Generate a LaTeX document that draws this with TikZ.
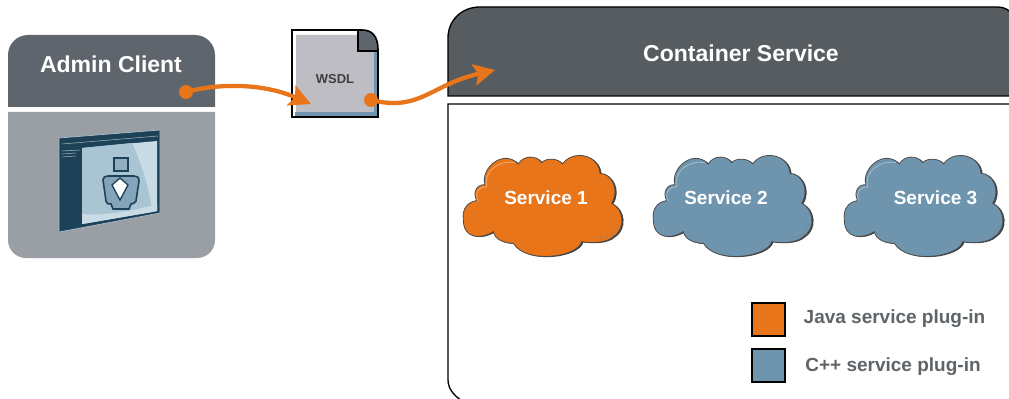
\documentclass[tikz,border=0pt]{standalone}
\usepackage{fontspec}
\setmainfont{Liberation Sans}
\usetikzlibrary{arrows.meta}
\definecolor{hdr}{HTML}{5E656C}
\definecolor{hdrb}{HTML}{575C60}
\definecolor{adm}{HTML}{9A9EA5}
\definecolor{org}{HTML}{E8751A}
\definecolor{blu}{HTML}{6E94AE}
\definecolor{doc}{HTML}{BFBDC4}
\definecolor{txt}{HTML}{5F6468}
\definecolor{navy}{HTML}{1D4258}
\definecolor{scr}{HTML}{A9C4D2}
\definecolor{scrl}{HTML}{C9DBE4}
\tikzset{
  ttl/.style={font=\bfseries\fontsize{17.25}{20}\selectfont,text=white,inner sep=0pt,anchor=base},
  cloudtxt/.style={font=\bfseries\fontsize{14.25}{17}\selectfont,text=white,inner sep=0pt,anchor=base},
  legtxt/.style={font=\bfseries\fontsize{14.25}{17}\selectfont,text=txt,inner sep=0pt,anchor=base},
  legbox/.style={draw=black,line width=1.6pt,minimum size=24.5pt,inner sep=0pt},
  dot/.style={circle,fill=org,inner sep=0pt,minimum size=10.5pt},
  flow/.style={draw=org,line width=3.2pt,-{Stealth[length=16pt,width=16pt,inset=3pt]}},
}
\newcommand{\cloudshape}{
  (40,240) .. controls (35,205) and (55,185) .. (80,182)
  .. controls (65,155) and (85,130) .. (105,135)
  .. controls (90,85) and (160,25) .. (205,72)
  .. controls (220,45) and (260,45) .. (275,68)
  .. controls (290,52) and (325,55) .. (338,72)
  .. controls (365,30) and (445,40) .. (450,100)
  .. controls (485,100) and (510,150) .. (485,190)
  .. controls (520,205) and (530,265) .. (490,290)
  .. controls (470,310) and (420,310) .. (395,305)
  .. controls (385,350) and (230,375) .. (190,310)
  .. controls (165,310) and (135,300) .. (130,275)
  .. controls (90,300) and (40,295) .. (40,240) -- cycle}
\newcommand{\svccloud}[5]{% name, dx, fill, label, label-x
  \begin{scope}[shift={(450+#2,140)},scale=0.3333]
    \fill[black!75,shift={(5,2)}] \cloudshape;
    \fill[#3,draw=black!70,line width=.6pt] \cloudshape;
    \draw[white,opacity=.35,line width=.7pt] (84,184) .. controls (72,158) and (90,138) .. (110,140) .. controls (98,95) and (150,58) .. (195,68);
    \draw[black!50,opacity=.6,line width=.4pt] (505,255) .. controls (500,285) and (470,295) .. (440,292);
  \end{scope}
  \node[cloudtxt] (#1) at (#5,204) {#4};
}
\begin{document}
\begin{tikzpicture}[x=.75pt,y=-.75pt]
\useasboundingbox (0,0) rectangle (1009,399);
\fill[white] (0,0) rectangle (1009,399);
% admin client
\fill[hdr] (8,107) -- (8,55) .. controls (8,44) and (17,35) .. (28,35) -- (195,35) .. controls (206,35) and (215,44) .. (215,55) -- (215,107) -- cycle;
\fill[adm] (8,112) -- (215,112) -- (215,240) .. controls (215,250) and (207,258) .. (197,258) -- (26,258) .. controls (16,258) and (8,250) .. (8,240) -- cycle;
\node[ttl] (admin) at (111,73) {Admin Client};
% monitor icon
\fill[navy] (59,138) -- (160,130) -- (160,213) -- (59,232) -- cycle;
\draw[blu!60,line width=.5pt] (59,138) -- (160,130) -- (160,213) -- (59,232) -- cycle;
\fill[scrl] (82,148) -- (157,141) -- (157,211) -- (82,224) -- cycle;
\fill[scr] (82,148) -- (132,143) .. controls (140,160) and (150,190) .. (152,212) -- (82,224) -- cycle;
\fill[scrl] (82,224) -- (152,212) -- (157,211) -- (157,204) .. controls (130,212) and (100,216) .. (82,214) -- cycle;
\draw[navy!40!white,line width=.4pt] (62,144) -- (158,136);
\draw[navy!40!white,line width=.4pt] (62,151) -- (80,150);
\draw[navy!40!white,line width=.4pt] (62,154) -- (76,153);
\draw[navy!40!white,line width=.4pt] (62,157) -- (76,156);
\draw[navy,line width=1pt,fill=blu!75] (114,158) rectangle (128,171);
\draw[navy,line width=1.2pt,fill=blu!85] (103,180) .. controls (103,177) and (105,176) .. (108,176) -- (134,176) .. controls (137,176) and (139,177) .. (139,181) -- (136,201) .. controls (135,204) and (133,203) .. (131,204) -- (129,209) -- (113,209) -- (111,204) .. controls (108,204) and (106,204) .. (106,201) -- cycle;
\fill[white,draw=navy,line width=1pt] (112,185) -- (120,178) -- (128,185) -- (120,200) -- cycle;
% wsdl
\fill[white] (292,30) -- (362,30) .. controls (372,30) and (378,36) .. (378,50) -- (378,117) -- (292,117) -- cycle;
\fill[doc] (296,35) -- (358,35) -- (358,50) -- (375,50) -- (375,112) -- (296,112) -- cycle;
\fill[blu] (295,112) rectangle (376,116);
\fill[blu] (374,50) rectangle (377,116);
\fill[hdr] (358,30) -- (362,30) .. controls (372,30) and (378,36) .. (378,51) -- (358,51) -- cycle;
\draw[black,line width=.9pt] (358,30) -- (358,51) -- (378,51);
\draw[black,line width=1.2pt] (292,30) -- (362,30) .. controls (372,30) and (378,36) .. (378,50) -- (378,117) -- (292,117) -- cycle;
\node[font=\bfseries\fontsize{9.75}{12}\selectfont,text=black!75,inner sep=0pt,anchor=base] (wsdl) at (335,84) {WSDL};
% container
\path[fill=hdrb,draw=black,line width=1pt] (448,96) -- (448,38) .. controls (448,20) and (462,7) .. (480,7) -- (998,7) .. controls (1004,7) and (1010,10) .. (1014,16) -- (1014,96) -- cycle;
\node[ttl] (container) at (741,62) {Container Service};
\draw[black,line width=1pt,fill=white] (1014,104) -- (448,104) -- (448,380) .. controls (448,390) and (456,398) .. (466,403) -- (1014,403);
% clouds
\svccloud{s1}{0}{org}{Service 1}{546}
\svccloud{s2}{190}{blu}{Service 2}{726}
\svccloud{s3}{381}{blu}{Service 3}{935.5}
% legend
\node[legbox,fill=org] (ljava) at (768.5,319.5) {};
\node[legbox,fill=blu] (lcpp) at (768.5,365.5) {};
\node[legtxt] (tjava) at (894.5,323) {Java service plug-in};
\node[legtxt] (tcpp) at (893,371) {C++ service plug-in};
% connectors
\node[dot] (d1) at (186,92) {};
\node[dot] (d2) at (371,100) {};
\coordinate (e1) at (311,104);
\coordinate (e2) at (495,70);
\path[flow] (d1.center) .. controls (215,84) and (260,82) .. (e1);
\path[flow] (d2.center) .. controls (420,112) and (430,85) .. (e2);
\end{tikzpicture}
\end{document}
